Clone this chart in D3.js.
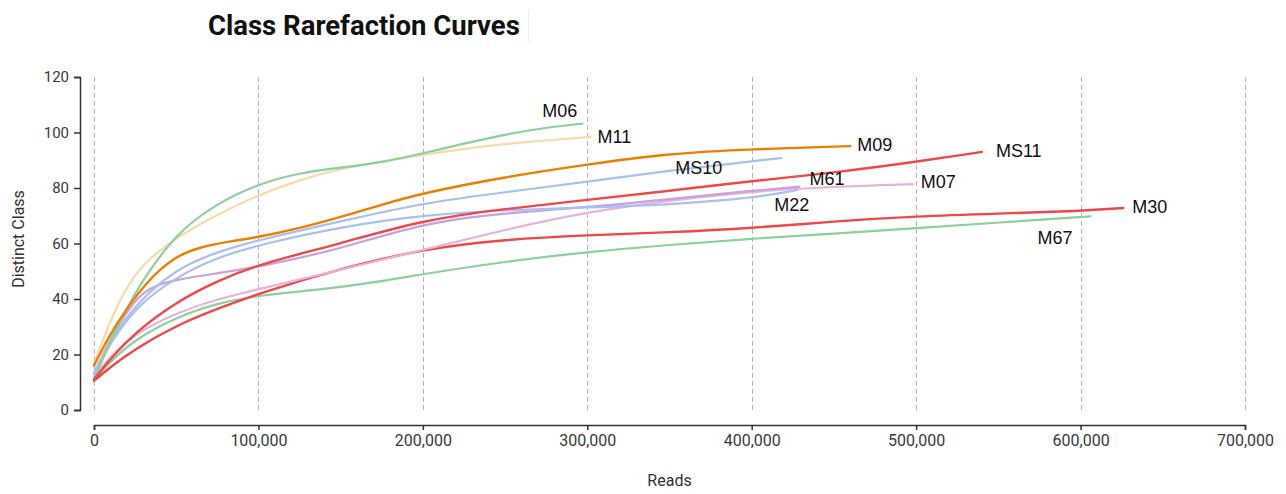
<!DOCTYPE html>
<html>
<head>
<meta charset="utf-8">
<script src="https://cdn.jsdelivr.net/npm/d3@7"></script>
<style>
  html, body { margin: 0; padding: 0; background: #fff; }
  svg { display: block; }
</style>
</head>
<body>
<svg id="chart" width="1286" height="494"></svg>
<script>
// Rarefaction samples: [reads, distinct classes]
const M06  = [[0,11],[10000,25],[25000,43],[50000,64],[75000,74.5],[100000,81.5],[125000,85.5],[150000,87.3],[175000,89.2],[200000,92.5],[225000,96],[250000,99.3],[275000,101.8],[297000,103.2]];
const M11  = [[0,16.5],[10000,33],[25000,50],[40000,57.5],[50000,62],[75000,70.5],[100000,77.5],[125000,83],[150000,87],[175000,89.5],[200000,92],[234000,94.8],[260000,96.5],[302000,98.4]];
const M09  = [[0,16],[10000,28],[32000,46.8],[50000,55.5],[64000,58.7],[85000,61],[100000,62.3],[125000,65.5],[150000,69.5],[175000,74],[200000,78.2],[250000,84],[300000,88.5],[350000,92.5],[400000,94],[460000,95.1]];
const MS10 = [[0,13],[10000,25],[25000,38],[50000,51],[75000,57],[100000,61.3],[150000,68],[200000,74.6],[250000,78.5],[300000,82.2],[350000,86.3],[400000,89.6],[418000,90.8]];
const M22  = [[0,13.5],[10000,24],[25000,37],[50000,48],[75000,55],[100000,59.5],[150000,66],[200000,70.3],[250000,72],[300000,73],[350000,74],[400000,76.3],[428000,79.3]];
const M61  = [[0,13],[10000,26],[25000,40],[35000,44.5],[50000,47],[75000,49.3],[100000,51.5],[150000,58],[200000,67.4],[250000,71],[300000,73],[350000,76],[400000,79],[429000,80.5]];
const M07  = [[0,12],[10000,19.5],[25000,27.5],[50000,35],[75000,40],[100000,43.5],[150000,50.5],[200000,57.7],[250000,65],[300000,71.4],[350000,75.5],[400000,78.8],[450000,80.5],[498000,81.4]];
const MS11 = [[0,11],[10000,18.5],[25000,28],[50000,39],[75000,46.5],[100000,52.5],[150000,60],[200000,68.5],[250000,72.5],[300000,75.7],[350000,79],[400000,82.5],[450000,85.5],[500000,89.4],[540000,93]];
const M30  = [[0,10.5],[10000,15.5],[25000,22],[50000,30.5],[75000,36.5],[100000,42],[150000,51],[200000,58],[250000,61.5],[300000,63],[350000,64],[400000,65.5],[450000,68],[500000,69.8],[550000,70.8],[600000,71.7],[626000,72.8]];
const M67  = [[0,10.8],[10000,17.5],[25000,25.5],[50000,33.5],[75000,38.5],[100000,41.4],[150000,44],[200000,49],[250000,53.5],[300000,57],[350000,59.5],[400000,61.8],[450000,63.5],[500000,65.6],[550000,67.5],[606000,69.8]];

const sampleNames = ["M67", "M30", "M07", "M61", "M22", "MS10", "M11", "M06", "MS11", "M09"];
const sampleData  = [M67, M30, M07, M61, M22, MS10, M11, M06, MS11, M09];
const sampleColors = ["#8ad19c", "#f04848", "#e9b2d8", "#c9a0dc", "#a7c0f2", "#a7c0f2", "#f7daa6", "#8ad19c", "#f04848", "#ef7d00"];

const xTicks = [0, 100000, 200000, 300000, 400000, 500000, 600000, 700000];
const yTicks = [0, 20, 40, 60, 80, 100, 120];

// end-of-line label placement (offsets from the last point)
const labelPlacement = {
  M06:  { anchor: "end",    dx: -5,  dy: -13 },
  M11:  { anchor: "start",  dx: 7,   dy: 0 },
  M09:  { anchor: "start",  dx: 7,   dy: -1 },
  MS10: { anchor: "end",    dx: -59, dy: 10 },
  M61:  { anchor: "start",  dx: 10,  dy: -8 },
  M22:  { anchor: "middle", dx: -6,  dy: 15 },
  M07:  { anchor: "start",  dx: 8,   dy: -2 },
  MS11: { anchor: "start",  dx: 14,  dy: -1 },
  M30:  { anchor: "start",  dx: 9,   dy: -1 },
  M67:  { anchor: "end",    dx: -18, dy: 21 }
};

const svg = d3.select("#chart");

const x = d3.scaleLinear().domain([0, 700000]).range([94, 1245]);
const y = d3.scaleLinear().domain([0, 120]).range([410, 77]);

// title
svg.append("text")
  .attr("x", 208).attr("y", 35)
  .attr("font-family", "Roboto, sans-serif")
  .attr("font-weight", 700)
  .attr("font-size", 27.5)
  .attr("fill", "#111")
  .text("Class Rarefaction Curves");

svg.append("line")
  .attr("x1", 528.5).attr("x2", 528.5).attr("y1", 10).attr("y2", 42)
  .attr("stroke", "#ececec").attr("stroke-width", 1);

// vertical dashed grid
svg.append("g")
  .selectAll("line")
  .data(xTicks)
  .join("line")
  .attr("x1", d => Math.round(x(d)) + 0.5)
  .attr("x2", d => Math.round(x(d)) + 0.5)
  .attr("y1", y(120))
  .attr("y2", y(0))
  .attr("stroke", "#b4b4b4")
  .attr("stroke-width", 1)
  .attr("stroke-dasharray", "5,3");

// y axis
const yAxis = svg.append("g")
  .attr("transform", "translate(80,0)")
  .call(d3.axisLeft(y).tickValues(yTicks).tickSize(6).tickPadding(5));
yAxis.select(".domain").attr("stroke", "#333").attr("stroke-width", 1.5);
yAxis.selectAll(".tick line").attr("stroke", "#333").attr("stroke-width", 1.5);
yAxis.selectAll("text")
  .attr("font-family", "Roboto, sans-serif")
  .attr("font-size", 15)
  .attr("fill", "#3a3a3a");

// x axis
const xAxis = svg.append("g")
  .attr("transform", "translate(0,425)")
  .call(d3.axisBottom(x).tickValues(xTicks).tickFormat(d3.format(",")).tickSize(5).tickPadding(5));
xAxis.select(".domain").attr("stroke", "#333").attr("stroke-width", 1.5);
xAxis.selectAll(".tick line").attr("stroke", "#333").attr("stroke-width", 1.5);
xAxis.selectAll("text")
  .attr("font-family", "Roboto, sans-serif")
  .attr("font-size", 16)
  .attr("fill", "#3a3a3a");

// axis titles
svg.append("text")
  .attr("transform", "translate(18,239) rotate(-90)")
  .attr("text-anchor", "middle")
  .attr("dy", "0.35em")
  .attr("font-family", "Roboto, sans-serif")
  .attr("font-size", 16)
  .attr("fill", "#333")
  .text("Distinct Class");

svg.append("text")
  .attr("x", (x(0) + x(700000)) / 2)
  .attr("y", 480)
  .attr("dy", "0.35em")
  .attr("text-anchor", "middle")
  .attr("font-family", "Roboto, sans-serif")
  .attr("font-size", 16)
  .attr("fill", "#333")
  .text("Reads");

// smoothed rarefaction curves
const line = d3.line()
  .x(d => x(d[0]))
  .y(d => y(d[1]))
  .curve(d3.curveBasis);

const series = sampleNames.map((name, i) => ({ name, values: sampleData[i], color: sampleColors[i] }));

svg.append("g")
  .selectAll("path")
  .data(series)
  .join("path")
  .attr("d", d => line(d.values))
  .attr("fill", "none")
  .attr("stroke", d => d.color)
  .attr("stroke-width", d => (d.name === "M09" || d.name === "MS11" || d.name === "M30") ? 2.4 : 2.2)
  .attr("stroke-linecap", "round");

// labels at line ends
svg.append("g")
  .selectAll("text")
  .data(series)
  .join("text")
  .attr("x", d => x(d.values[d.values.length - 1][0]) + labelPlacement[d.name].dx)
  .attr("y", d => y(d.values[d.values.length - 1][1]) + labelPlacement[d.name].dy)
  .attr("dy", "0.35em")
  .attr("text-anchor", d => labelPlacement[d.name].anchor)
  .attr("font-family", "'Liberation Sans', Arial, sans-serif")
  .attr("font-size", 18)
  .attr("fill", "#111")
  .text(d => d.name);
</script>
</body>
</html>
